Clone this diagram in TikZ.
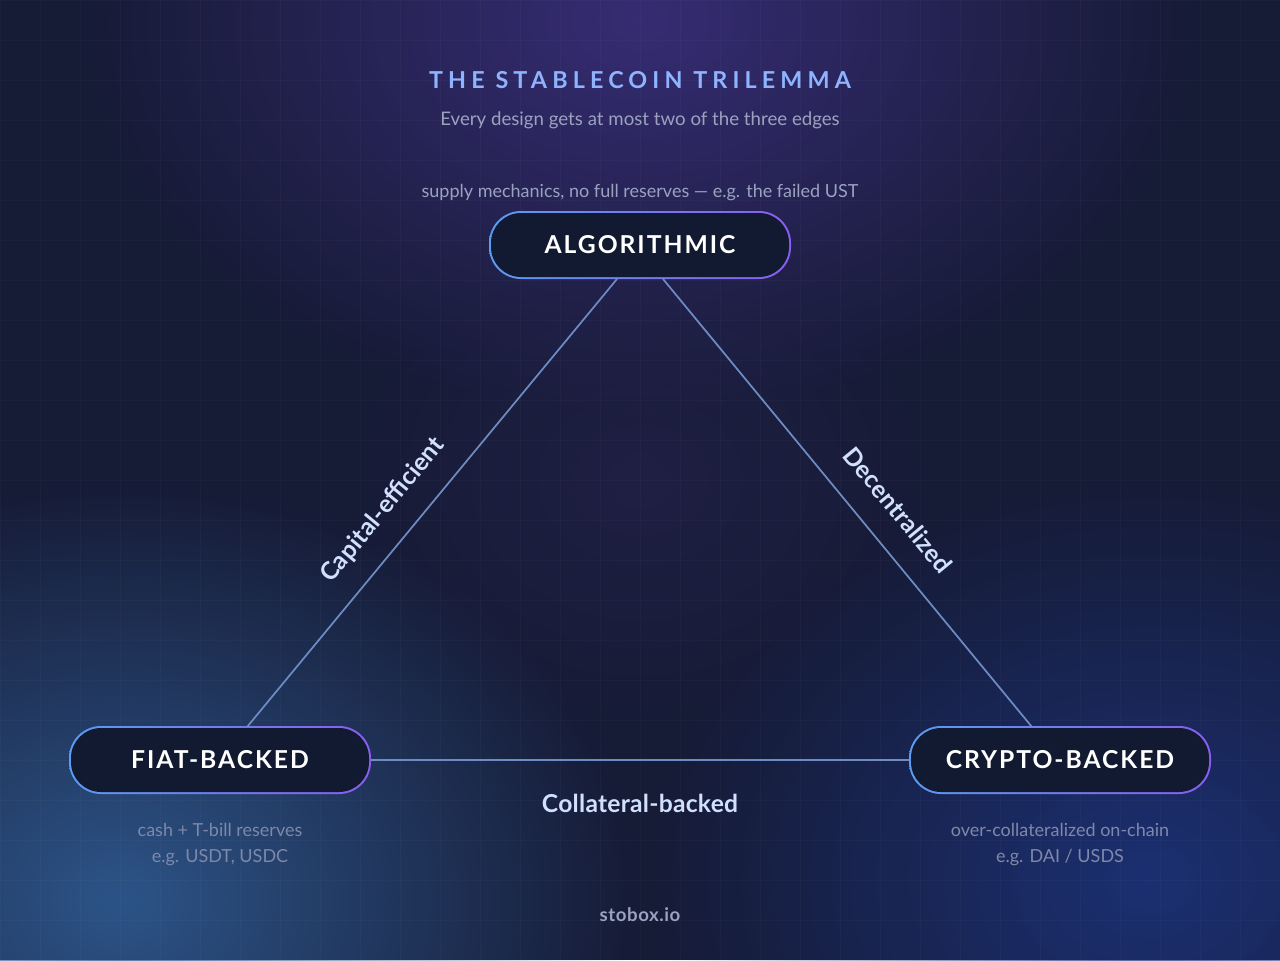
\documentclass[tikz,border=0pt]{standalone}
\usepackage{fontspec}
\setmainfont{Lato}
\usetikzlibrary{fadings}
\tikzfading[name=glow, inner color=transparent!0, outer color=transparent!100]
\definecolor{bg}{HTML}{161B36}
\definecolor{nodefill}{HTML}{111A30}
\definecolor{bblue}{HTML}{5A9CF0}
\definecolor{bpurp}{HTML}{8A5CF0}
\definecolor{edge}{HTML}{6E8CC4}
\definecolor{titlec}{HTML}{8FB4FF}
\definecolor{subc}{HTML}{9AA2C0}
\definecolor{notec}{HTML}{7E88A8}
\definecolor{lblc}{HTML}{D2E0FF}
\definecolor{glowa}{HTML}{3A2E7A}
\definecolor{glowb}{HTML}{2F5A90}
\definecolor{glowc}{HTML}{1C3278}
\definecolor{glowd}{HTML}{282450}
\begin{document}
\begin{tikzpicture}[x=0.75pt,y=-0.75pt,
  edgeline/.style={draw=edge,line width=1.3pt},
  lbl/.style={text=lblc,font=\bfseries\fontsize{18.5}{20}\selectfont\addfontfeatures{LetterSpace=1}},
  note/.style={text=notec,font=\fontsize{13.5}{19.5}\selectfont,align=center},
  nodetxt/.style={text=white,font=\bfseries\fontsize{18.5}{20}\selectfont\addfontfeatures{LetterSpace=8}}]
\useasboundingbox (0,0) rectangle (1280,960);
\fill[bg] (0,0) rectangle (1280,960);
\fill[glowa,opacity=0.9,path fading=glow] (640,20) ellipse (560 and 400);
\fill[glowb,opacity=0.9,path fading=glow] (120,900) ellipse (520 and 420);
\fill[glowc,opacity=0.9,path fading=glow] (1150,880) ellipse (500 and 400);
\fill[glowd,opacity=0.5,path fading=glow] (640,480) ellipse (300 and 250);
\foreach \x in {0,40,...,1280} \draw[white,opacity=0.025] (\x,0) -- (\x,960);
\foreach \y in {0,40,...,960} \draw[white,opacity=0.025] (0,\y) -- (1280,\y);

\node[text=titlec,font=\bfseries\fontsize{17.5}{20}\selectfont\addfontfeatures{LetterSpace=22}] (title) at (640,80) {THE STABLECOIN TRILEMMA};
\node[text=subc,font=\fontsize{14}{16}\selectfont] (sub) at (640,120) {Every design gets at most two of the three edges};

\foreach \n/\cx/\cy in {alg/640/245,fiat/220/760,crypto/1060/760}{
  \shade[left color=bblue,right color=bpurp,rounded corners=24pt] (\cx-151,\cy-34) rectangle (\cx+151,\cy+34);
  \fill[nodefill,rounded corners=22.5pt] (\cx-149,\cy-32) rectangle (\cx+149,\cy+32);
  \coordinate (\n) at (\cx,\cy);
}
\node[nodetxt] (algt) at (640,245) {ALGORITHMIC};
\node[nodetxt] (fiatt) at (220,760) {FIAT-BACKED};
\node[nodetxt] (cryptot) at (1060,760) {CRYPTO-BACKED};

\coordinate (a1) at (617,279); \coordinate (a2) at (663,279);
\coordinate (f1) at (247,727); \coordinate (f2) at (371,760);
\coordinate (c1) at (1032,727); \coordinate (c2) at (909,760);
\draw[edgeline] (a1) -- (f1);
\draw[edgeline] (a2) -- (c1);
\draw[edgeline] (f2) -- (c2);

\node[lbl,rotate=50.5] (l1) at (383,510) {Capital-efficient};
\node[lbl,rotate=-50.5] (l2) at (898,510) {Decentralized};
\node[lbl] (l3) at (640,803) {Collateral-backed};

\node[text=subc,font=\fontsize{13.5}{16}\selectfont] (n1) at (640,193) {supply mechanics, no full reserves — e.g. the failed UST};
\node[note] (n2) at (220,844) {cash + T-bill reserves\\e.g. USDT, USDC};
\node[note] (n3) at (1060,844) {over-collateralized on-chain\\e.g. DAI / USDS};
\node[text=subc,font=\bfseries\fontsize{14}{16}\selectfont\addfontfeatures{LetterSpace=3}] (brand) at (640,915) {stobox.io};
\end{tikzpicture}
\end{document}
